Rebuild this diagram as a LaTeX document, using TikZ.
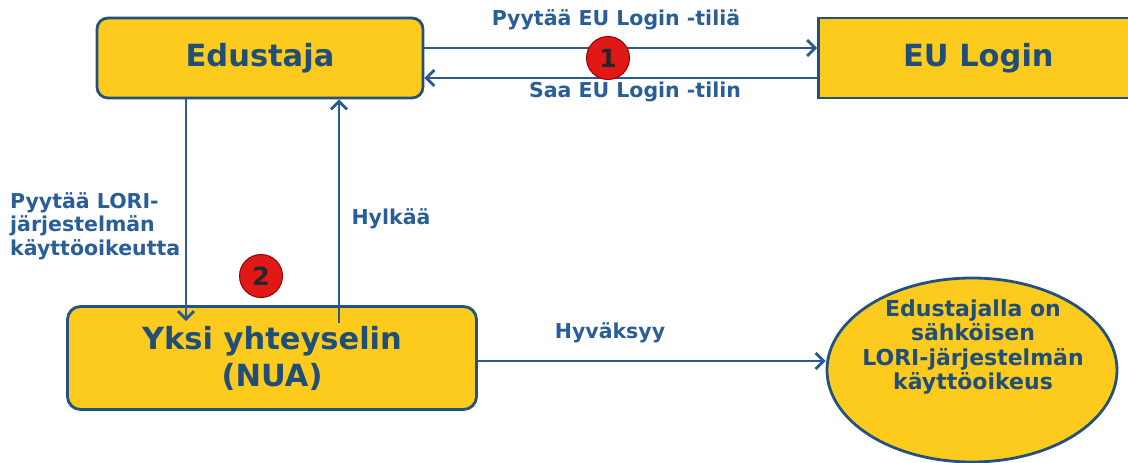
\documentclass[tikz,border=0pt]{standalone}
\usepackage{fontspec}
\setmainfont{DejaVu Sans}
\usetikzlibrary{shapes.geometric,arrows.meta}
\definecolor{boxyellow}{HTML}{FDCA1E}
\definecolor{boxline}{HTML}{24527E}
\definecolor{boxtext}{HTML}{1F4E79}
\definecolor{labtext}{HTML}{2A5E96}
\definecolor{arrline}{HTML}{2C5A8E}
\definecolor{badgered}{HTML}{E01818}
\begin{document}
\begin{tikzpicture}[x=1pt,y=-1pt,
  box/.style={draw=boxline,line width=2.8pt,fill=boxyellow,text=boxtext,font=\bfseries\fontsize{30.5}{37}\selectfont,align=center,inner sep=0pt},
  lab/.style={text=labtext,font=\bfseries\fontsize{20.5}{23.5}\selectfont,inner sep=0pt},
  conn/.style={draw=arrline,line width=2.8pt,-{Straight Barb[length=8pt,width=16pt,line width=2.8pt]}},
  badge/.style={circle,fill=badgered,draw=red!60!black,line width=1pt,minimum size=43pt,inner sep=0pt,font=\bfseries\fontsize{25}{25}\selectfont,text=black!85}]
\useasboundingbox[fill=white] (0,0) rectangle (1128,463);
% nodes
\node[box,rounded corners=11pt,minimum width=326pt,minimum height=80pt] (ed) at (260,58) {Edustaja};
\node[box,minimum width=320pt,minimum height=80pt,anchor=west] (eu) at (817,58) {EU Login};
\node[box,rounded corners=13pt,minimum width=409pt,minimum height=103pt] (nua) at (272,358) {Yksi yhteyselin\\(NUA)};
\node[ellipse,draw=boxline,line width=2.8pt,fill=boxyellow,minimum width=290pt,minimum height=184pt,inner sep=0pt] (goal) at (972,370) {};
\node[text=boxtext,font=\bfseries\fontsize{22}{24.5}\selectfont,align=center,inner sep=0pt] (goaltext) at (973,347) {Edustajalla on\\sähköisen\\LORI-järjestelmän\\käyttöoikeus};
% coordinates
\coordinate (xd) at (186,0);
\coordinate (xu) at (339,0);
\coordinate (yh) at (0,361);
% connectors
\draw[conn] ([yshift=10pt]ed.east) -- ([yshift=10pt]eu.west);
\draw[conn] ([yshift=-20pt]eu.west) -- ([yshift=-20pt]ed.east);
\draw[conn] (ed.south -| xd) -- ([yshift=-16pt]nua.north -| xd);
\draw[conn] ([yshift=-18pt]nua.north -| xu) -- (ed.south -| xu);
\draw[conn] (nua.east |- yh) -- (goal.west |- yh);
% labels
\node[lab] (l1) at (616,20) {Pyytää EU Login -tiliä};
\node[lab] (l2) at (635,92) {Saa EU Login -tilin};
\node[lab,align=left,anchor=north west] (l3) at (10,192) {Pyytää LORI-\\järjestelmän\\käyttöoikeutta};
\node[lab] (l4) at (391,219) {Hylkää};
\node[lab] (l5) at (610,333) {Hyväksyy};
% badges
\node[badge] (b1) at (608,58) {1};
\node[badge] (b2) at (261,276) {2};
\end{tikzpicture}
\end{document}
